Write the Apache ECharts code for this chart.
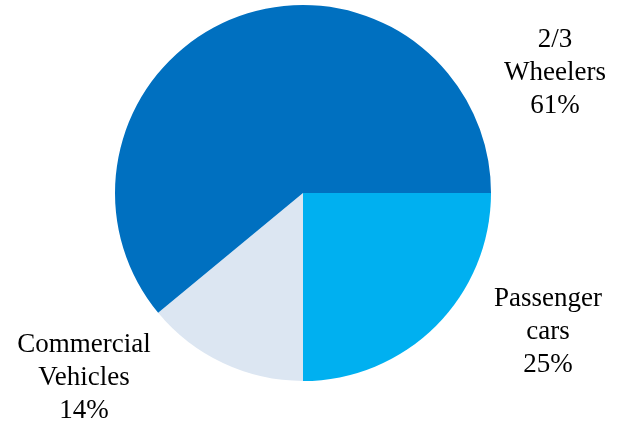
<!DOCTYPE html>
<html><head><meta charset="utf-8">
<script src="https://cdn.jsdelivr.net/npm/echarts@6/dist/echarts.min.js"></script>
<style>html,body{margin:0;padding:0;background:#fff}#c{width:625px;height:426px}</style>
</head><body><div id="c"></div>
<script>
var categories = ['Passenger\ncars', 'Commercial\nVehicles', '2/3\nWheelers'];
var values = [25, 14, 61];
var colors = ['#00B0F0', '#DCE6F2', '#0070C0'];
var labelPos = [[548, 332], [84, 378], [555, 73]];

var chart = echarts.init(document.getElementById('c'));
chart.setOption({
  animation: false,
  series: [{
    type: 'pie',
    center: [303, 193],
    radius: 188,
    startAngle: 0,
    clockwise: true,
    data: categories.map(function (c, i) { return { name: c, value: values[i], itemStyle: { color: colors[i] } }; }),
    itemStyle: { borderColor: '#fff', borderWidth: 0 },
    label: {
      show: true,
      position: 'outside',
      formatter: function (p) { return p.name + '\n' + p.value + '%'; },
      fontFamily: 'Liberation Serif',
      fontSize: 27,
      lineHeight: 33,
      color: '#000',
      align: 'center'
    },
    labelLine: { show: false },
    labelLayout: function (p) {
      var pos = labelPos[p.dataIndex];
      return { x: pos[0], y: pos[1], align: 'center', verticalAlign: 'middle' };
    }
  }]
});
</script></body></html>
